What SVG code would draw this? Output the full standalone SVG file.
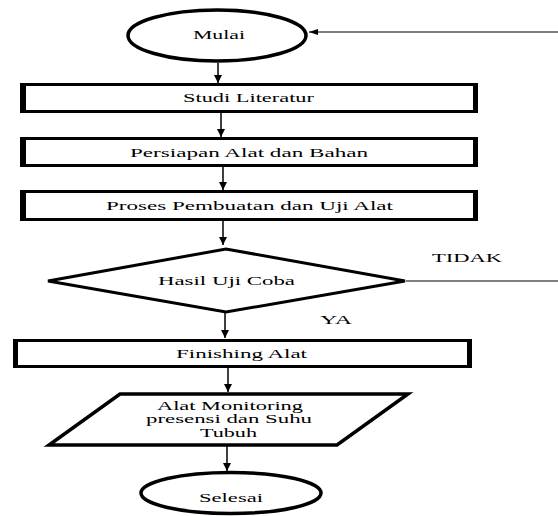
<svg xmlns="http://www.w3.org/2000/svg" width="558" height="516" viewBox="0 0 558 516">
<defs>
<style>
.bg{fill:#fff}
.frame{fill:#000}
.inner{fill:#fff}
.shape{fill:#fff;stroke:#000;stroke-width:3.5}
.diam{fill:#fff;stroke:#000;stroke-width:3}
.conn{fill:none;stroke:#000;stroke-width:1.5}
.thin{fill:none;stroke:#000;stroke-width:1.2}
.t{font-family:'Liberation Serif','DejaVu Serif','Times New Roman',serif;font-size:13px;fill:#000}
.s{font-size:11.5px}
</style>
<marker id="ah" markerWidth="8" markerHeight="8" refX="8" refY="4" orient="auto" markerUnits="userSpaceOnUse"><path d="M0,0 L8,4 L0,8 z" fill="#000"/></marker>
<marker id="ahs" markerWidth="9" markerHeight="6" refX="9" refY="3" orient="auto" markerUnits="userSpaceOnUse"><path d="M0,0 L9,3 L0,6 z" fill="#000"/></marker>
</defs>
<rect class="bg" x="0" y="0" width="558" height="516"/>
<g id="connectors">
<line class="conn" x1="218" y1="63" x2="218" y2="83" marker-end="url(#ah)"/>
<line class="conn" x1="221" y1="113" x2="221" y2="137" marker-end="url(#ah)"/>
<line class="conn" x1="223" y1="167" x2="223" y2="190" marker-end="url(#ah)"/>
<line class="conn" x1="223" y1="221" x2="223" y2="245" marker-end="url(#ah)"/>
<line class="conn" x1="225" y1="312" x2="225" y2="338" marker-end="url(#ah)"/>
<line class="conn" x1="228" y1="368" x2="228" y2="392" marker-end="url(#ah)"/>
<line class="conn" x1="227" y1="446" x2="227" y2="471" marker-end="url(#ah)"/>
<line class="thin" x1="406" y1="281" x2="558" y2="281"/>
<line class="thin" x1="558" y1="32" x2="309" y2="32" marker-end="url(#ahs)"/>
<text class="t" x="432" y="262" textLength="70" lengthAdjust="spacingAndGlyphs" font-family="Liberation Serif, serif">TIDAK</text>
<text class="t" x="320" y="324" textLength="32" lengthAdjust="spacingAndGlyphs" font-family="Liberation Serif, serif">YA</text>
</g>
<g id="mulai">
<ellipse class="shape" cx="217" cy="35.5" rx="89" ry="25.5"/>
<text class="t" x="193" y="39" textLength="52" lengthAdjust="spacingAndGlyphs" font-family="Liberation Serif, serif">Mulai</text>
</g>
<g id="studi">
<rect class="frame" x="20" y="83" width="458" height="30"/>
<rect class="inner" x="26" y="86" width="447" height="24"/>
<text class="t" x="183" y="102" textLength="131" lengthAdjust="spacingAndGlyphs" font-family="Liberation Serif, serif">Studi Literatur</text>
</g>
<g id="persiapan">
<rect class="frame" x="20" y="137" width="458" height="30"/>
<rect class="inner" x="26" y="140" width="447" height="24"/>
<text class="t" x="130" y="157" textLength="238" lengthAdjust="spacingAndGlyphs" font-family="Liberation Serif, serif">Persiapan Alat dan Bahan</text>
</g>
<g id="proses">
<rect class="frame" x="20" y="190" width="458" height="31"/>
<rect class="inner" x="26" y="193" width="447" height="25"/>
<text class="t" x="106" y="210" textLength="287" lengthAdjust="spacingAndGlyphs" font-family="Liberation Serif, serif">Proses Pembuatan dan Uji Alat</text>
</g>
<g id="hasil">
<polygon class="diam" points="48,281 226,249 405,281 226,312"/>
<text class="t" x="158" y="285" textLength="137" lengthAdjust="spacingAndGlyphs" font-family="Liberation Serif, serif">Hasil Uji Coba</text>
</g>
<g id="finishing">
<rect class="frame" x="13" y="339" width="459" height="29"/>
<rect class="inner" x="18" y="342" width="449" height="23"/>
<text class="t" x="176" y="358" textLength="131" lengthAdjust="spacingAndGlyphs" font-family="Liberation Serif, serif">Finishing Alat</text>
</g>
<g id="alat">
<polygon class="shape" points="120,394 408,394 337,445 49,445"/>
<text class="t s" x="157" y="410" textLength="146" lengthAdjust="spacingAndGlyphs" font-family="Liberation Serif, serif">Alat Monitoring</text>
<text class="t s" x="146" y="423" textLength="166" lengthAdjust="spacingAndGlyphs" font-family="Liberation Serif, serif">presensi dan Suhu</text>
<text class="t s" x="200" y="437" textLength="57" lengthAdjust="spacingAndGlyphs" font-family="Liberation Serif, serif">Tubuh</text>
</g>
<g id="selesai">
<ellipse class="shape" cx="231" cy="493" rx="90" ry="20.5"/>
<text class="t" x="199" y="502" textLength="64" lengthAdjust="spacingAndGlyphs" font-family="Liberation Serif, serif">Selesai</text>
</g>
</svg>
